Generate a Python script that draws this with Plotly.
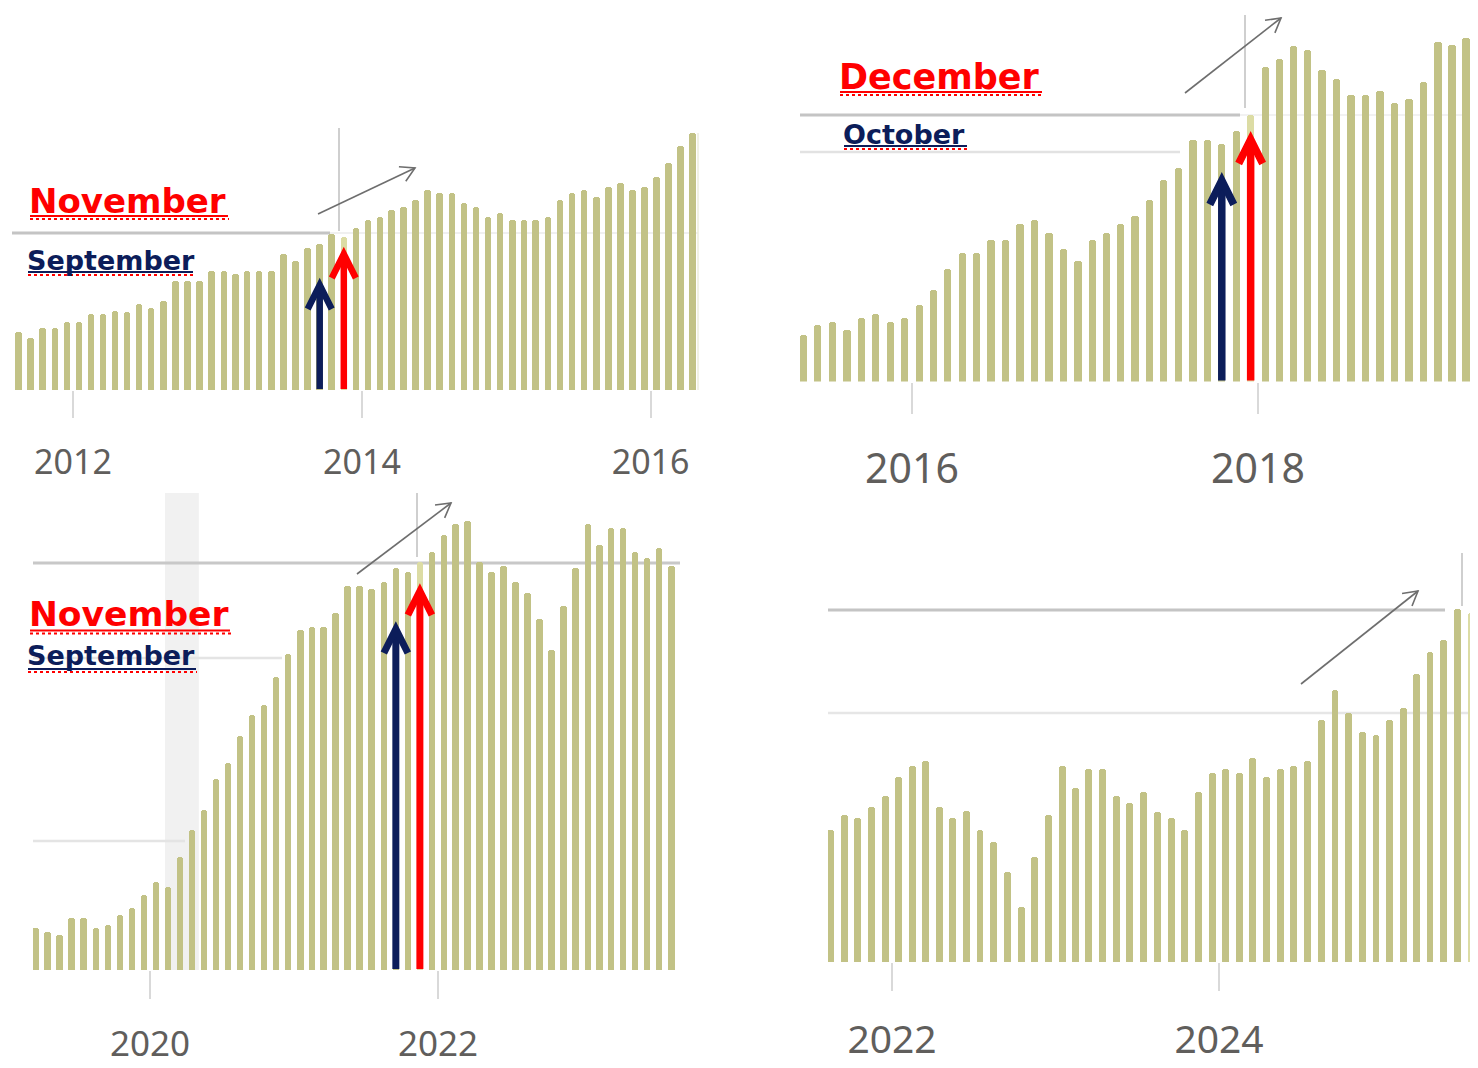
import math
import pandas as pd
import plotly.graph_objects as go

W, H = 1478, 1068

# ------------------------------------------------------------------ data
# Panel 1 (top left): monthly bars Aug 2011 - Apr 2016
p1_start = "2011-08"
p1_values = [58, 52, 62, 62, 68,
             68, 76, 76, 79, 78, 86, 82, 89, 109, 109, 109, 119,
             119, 116, 119, 119, 119, 136, 129, 142, 146, 156, 153, 162,
             170, 173, 180, 183, 190, 200, 197, 197, 187, 183, 173, 177,
             170, 170, 170, 173, 190, 197, 200, 193, 203, 207, 200, 203,
             213, 227, 244, 257]
p1_tick_dates = ["2012-01-01", "2014-01-01", "2016-01-01"]
p1_tick_labels = ["2012", "2014", "2016"]
p1_months_marked = ["2013-09", "2013-11"]
p1_month_labels = ["September", "November"]
p1_arrow_tips = [113, 144]

# Panel 2 (top right): monthly bars May 2015 - Mar 2019
p2_start = "2015-05"
p2_values = [47, 57, 60, 52, 64, 68, 60, 64,
             77, 92, 113, 129, 129, 142, 142, 158, 162, 149, 133, 121,
             142, 149, 158, 166, 182, 202, 214, 242, 242, 238, 251, 267,
             315, 323, 336, 332, 312, 303, 287, 287, 291, 279, 283, 300,
             340, 337, 344]
p2_tick_dates = ["2016-01-01", "2018-01-01"]
p2_tick_labels = ["2016", "2018"]
p2_months_marked = ["2017-10", "2017-12"]
p2_month_labels = ["October", "December"]
p2_arrow_tips = [209, 250]

# Panel 3 (bottom left): monthly bars Mar 2019 - Aug 2023
p3_start = "2019-03"
p3_values = [42, 38, 35, 52, 52, 42, 45, 55, 62, 75,
             88, 83, 113, 140, 160, 191, 207, 234, 255, 265, 293, 316,
             340, 343, 343, 357, 384, 384, 381, 388, 402, 398, 408, 418,
             435, 446, 449, 408, 398, 404, 388, 377, 351, 320, 364, 402,
             446, 425, 442, 442, 418, 412, 422, 404]
p3_tick_dates = ["2020-01-01", "2022-01-01"]
p3_tick_labels = ["2020", "2022"]
p3_months_marked = ["2021-09", "2021-11"]
p3_month_labels = ["September", "November"]
p3_arrow_tips = [349, 387]
p3_shaded_period = ["2020-02-08", "2020-05-04"]

# Panel 4 (bottom right): monthly bars Aug 2021 - Jul 2025
p4_start = "2021-08"
p4_values = [132, 147, 144, 155, 166,
             185, 196, 201, 155, 144, 151, 132, 120, 90, 55, 105, 147,
             196, 174, 193, 193, 166, 159, 170, 150, 144, 132, 170, 189,
             193, 189, 204, 185, 193, 196, 201, 242, 272, 249, 230, 227,
             242, 254, 288, 310, 322, 353, 349]
p4_tick_dates = ["2022-01-01", "2024-01-01"]
p4_tick_labels = ["2022", "2024"]
p4_highlight = "2025-07"

# ------------------------------------------------------------------ style
OLIVE = "#C2C286"
PALE = "#DCDCA4"
RED = "#FF0000"
NAVY = "#0C1D5A"
TICK_GREY = "#605E5C"


def px(x):
    return x / W


def py(y):
    return 1 - y / H


def fmt(t):
    return pd.Timestamp(t).strftime("%Y-%m-%d %H:%M:%S")


def mid(month):
    t = pd.Timestamp(month + "-01")
    n = t + pd.offsets.MonthBegin(1)
    return fmt(t + (n - t) / 2)


def date_range_for(d0, d1, a_date, a_px, b_date, b_px):
    a, b = pd.Timestamp(a_date), pd.Timestamp(b_date)
    per = (b - a) / (b_px - a_px)
    return [fmt(a - per * (a_px - d0)), fmt(a + per * (d1 - a_px))]


panels = [
    dict(start=p1_start, values=p1_values, ticks=p1_tick_dates, labels=p1_tick_labels,
         highlight=p1_months_marked[1], xpx=(12, 698), base=390, top=110,
         anchor_px=(73, 362), font=34, ticklen=27, standoff=15, barw=16.5),
    dict(start=p2_start, values=p2_values, ticks=p2_tick_dates, labels=p2_tick_labels,
         highlight=p2_months_marked[1], xpx=(800, 1470), base=381.5, top=5,
         anchor_px=(912, 1258), font=41, ticklen=31, standoff=20, barw=15.5),
    dict(start=p3_start, values=p3_values, ticks=p3_tick_dates, labels=p3_tick_labels,
         highlight=p3_months_marked[1], xpx=(33, 680), base=970, top=485,
         anchor_px=(150, 438), font=35, ticklen=28, standoff=15, barw=16.5),
    dict(start=p4_start, values=p4_values, ticks=p4_tick_dates, labels=p4_tick_labels,
         highlight=p4_highlight, xpx=(828, 1470), base=962, top=540,
         anchor_px=(892, 1219), font=39, ticklen=28, standoff=15, barw=15.5),
]

fig = go.Figure()
layout = dict(width=W, height=H, margin=dict(l=0, r=0, t=0, b=0, autoexpand=False),
              paper_bgcolor="white", plot_bgcolor="rgba(0,0,0,0)",
              showlegend=False, bargap=0)
shapes = []
annotations = []

for i, p in enumerate(panels):
    sfx = "" if i == 0 else str(i + 1)
    xa, ya = "x" + sfx, "y" + sfx
    months = pd.date_range(p["start"] + "-01", periods=len(p["values"]), freq="MS")
    colors = [PALE if m.strftime("%Y-%m") == p["highlight"] else OLIVE for m in months]
    fig.add_trace(go.Bar(
        x=months.strftime("%Y-%m-%d"), y=p["values"],
        xperiod="M1", xperiodalignment="middle",
        width=p["barw"] * 86400000,
        marker=dict(color=colors, cornerradius=3, line=dict(width=0)),
        xaxis=xa, yaxis=ya, hoverinfo="skip"))
    layout["xaxis" + sfx] = dict(
        type="date", anchor=ya, automargin=False,
        domain=[px(p["xpx"][0]), px(p["xpx"][1])],
        range=date_range_for(p["xpx"][0], p["xpx"][1], p["ticks"][0], p["anchor_px"][0],
                             p["ticks"][1], p["anchor_px"][1]),
        tickmode="array", tickvals=p["ticks"], ticktext=p["labels"],
        ticks="outside", ticklen=p["ticklen"], tickwidth=2, tickcolor="#D9D9D9",
        ticklabelstandoff=p["standoff"],
        tickfont=dict(family="Noto Sans", size=p["font"], color=TICK_GREY),
        showgrid=False, zeroline=False, showline=False, fixedrange=True)
    layout["yaxis" + sfx] = dict(
        anchor=xa, automargin=False, domain=[py(p["base"]), py(p["top"])],
        range=[0, p["base"] - p["top"]],
        showgrid=False, zeroline=False, showline=False, showticklabels=False,
        ticks="", fixedrange=True)


def hline(y, x0, x1, color, w, layer="below", dash="solid"):
    shapes.append(dict(type="line", xref="paper", yref="paper", x0=px(x0), x1=px(x1),
                       y0=py(y), y1=py(y), layer=layer,
                       line=dict(color=color, width=w, dash=dash)))


def vline(x, y0, y1, color, w, layer="below"):
    shapes.append(dict(type="line", xref="paper", yref="paper", x0=px(x), x1=px(x),
                       y0=py(y0), y1=py(y1), layer=layer, line=dict(color=color, width=w)))


def thick_arrow(sfx, month, tip, color, w=7):
    xm = mid(month)
    shapes.append(dict(type="line", xref="x" + sfx, yref="y" + sfx, x0=xm, x1=xm,
                       y0=1, y1=tip - 10, line=dict(color=color, width=w)))
    shapes.append(dict(type="path", xref="x" + sfx, yref="y" + sfx,
                       xsizemode="pixel", ysizemode="pixel", xanchor=xm, yanchor=tip,
                       path="M -12,-32 L 0,-8 L 12,-32", line=dict(color=color, width=w)))


def thin_arrow(x0, y0, x1, y1, color="#6E6E6E", w=1.6):
    shapes.append(dict(type="line", xref="paper", yref="paper", x0=px(x0), y0=py(y0),
                       x1=px(x1), y1=py(y1), line=dict(color=color, width=w)))
    dx, dy = x1 - x0, y1 - y0
    L = math.hypot(dx, dy)
    ux, uy = dx / L, dy / L
    back, half = 14, 8
    w1 = (-back * ux - half * uy, -back * uy + half * ux)
    w2 = (-back * ux + half * uy, -back * uy - half * ux)
    path = f"M {w1[0]:.2f},{-w1[1]:.2f} L 0,0 L {w2[0]:.2f},{-w2[1]:.2f}"
    shapes.append(dict(type="path", xref="paper", yref="paper", xsizemode="pixel",
                       ysizemode="pixel", xanchor=px(x1), yanchor=py(y1), path=path,
                       line=dict(color=color, width=w)))


def month_label(text, x0, x1, yc, yu, size, color):
    annotations.append(dict(text=f"<b>{text}</b>", x=px(x0 - 3), y=py(yc), xref="paper",
                            yref="paper", xanchor="left", yanchor="middle", showarrow=False,
                            font=dict(family="DejaVu Sans", size=size, color=color)))
    hline(yu, x0, x1, color, 2, layer="above")
    hline(yu + 3, x0, x1 + 1, RED, 2, layer="above", dash="dot")


# shaded band in panel 3
shapes.append(dict(type="rect", xref="x3", yref="paper", x0=p3_shaded_period[0],
                   x1=p3_shaded_period[1], y0=py(970), y1=py(493), layer="below",
                   fillcolor="#F1F1F1", line=dict(width=0)))

# gridlines / crosshair lines
hline(233, 12, 330, "#C4C4C4", 3)
hline(233, 330, 698, "#F0F0F0", 2)
vline(339, 128, 231, "#CFCFCF", 2)
vline(698, 133, 390, "#ECECDC", 1.5)

hline(115, 800, 1240, "#C4C4C4", 3)
hline(115, 1240, 1470, "#F2F2F2", 2)
hline(152, 800, 1180, "#E2E2E2", 2.5)
vline(1245, 15, 108, "#CFCFCF", 2)

hline(563, 33, 680, "#C8C8C8", 3)
hline(658, 33, 282, "#E4E4E4", 2.5)
hline(841, 33, 185, "#E4E4E4", 2.5)
vline(417, 493, 557, "#CFCFCF", 2)

hline(610, 828, 1445, "#C4C4C4", 3)
hline(713, 828, 1470, "#E6E6E6", 2.5)
vline(1462, 553, 606, "#CFCFCF", 2)

# thick month arrows
thick_arrow("", p1_months_marked[0], p1_arrow_tips[0], NAVY, 6.5)
thick_arrow("", p1_months_marked[1], p1_arrow_tips[1], RED, 6.5)
thick_arrow("2", p2_months_marked[0], p2_arrow_tips[0], NAVY, 7.5)
thick_arrow("2", p2_months_marked[1], p2_arrow_tips[1], RED, 7.5)
thick_arrow("3", p3_months_marked[0], p3_arrow_tips[0], NAVY, 7)
thick_arrow("3", p3_months_marked[1], p3_arrow_tips[1], RED, 7)

# thin trend arrows
thin_arrow(318, 214, 415, 168)
thin_arrow(1185, 93, 1281, 18)
thin_arrow(357, 574, 451, 503)
thin_arrow(1301, 684, 1418, 591)

# month labels
month_label(p1_month_labels[1], 30, 228, 200.5, 216, 34, RED)
month_label(p1_month_labels[0], 28, 193, 260.5, 272, 27, NAVY)
month_label(p2_month_labels[1], 840, 1042, 76.7, 92, 35, RED)
month_label(p2_month_labels[0], 844, 967, 134.5, 146, 27, NAVY)
month_label(p3_month_labels[1], 30, 230, 614, 630.5, 34.5, RED)
month_label(p3_month_labels[0], 28, 196, 656, 669, 27, NAVY)

layout["shapes"] = shapes
layout["annotations"] = annotations
fig.update_layout(**layout)

fig.write_html("out.html", config={"displayModeBar": False},
               post_script="document.body.style.margin='0';document.body.style.overflow='hidden';")
